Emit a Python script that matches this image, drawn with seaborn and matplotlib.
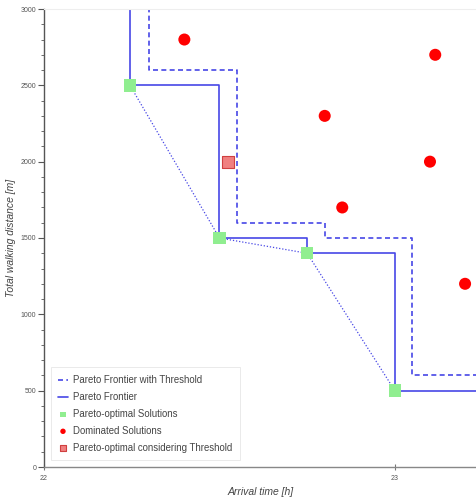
import numpy as np
import pandas as pd
import matplotlib.pyplot as plt
import seaborn as sns
from matplotlib.ticker import MultipleLocator

# Pareto-optimal solutions (arrival time [h], walking distance [m])
pareto_time = [22.245, 22.50, 22.75, 23.00]
pareto_walk = [2500, 1500, 1400, 500]

# Pareto frontier considering the threshold
thresh_time = [22.30, 22.55, 22.80, 23.05]
thresh_walk = [2600, 1600, 1500, 600]

# Dominated solutions
dom_time = [22.40, 23.115, 22.80, 23.10, 22.85, 23.20]
dom_walk = [2800, 2700, 2300, 2000, 1700, 1200]

# Pareto-optimal considering threshold
pt_time = [22.525]
pt_walk = [2000]

X_MIN, X_MAX = 22.0, 23.234
Y_MIN, Y_MAX = 0, 3000


def step_frame(xs, ys):
    # extend the frontier above the top and to the right edge
    x = [xs[0]] + list(xs) + [X_MAX + 0.1]
    y = [Y_MAX + 200] + list(ys) + [ys[-1]]
    return pd.DataFrame({'x': x, 'y': y})


sns.set_style("white")
plt.rcParams['font.family'] = ['Liberation Sans', 'DejaVu Sans']

fig = plt.figure(figsize=(4.77, 4.99), dpi=100)
ax = fig.add_axes([44 / 477, 32 / 499, 433 / 477, 458 / 499])

blue = '#4747e6'

thr = step_frame(thresh_time, thresh_walk)
sns.lineplot(data=thr, x='x', y='y', ax=ax, sort=False, estimator=None,
             drawstyle='steps-post', color=blue, linestyle=(0, (3, 2)),
             linewidth=1.2, label='Pareto Frontier with Threshold')

par = step_frame(pareto_time, pareto_walk)
sns.lineplot(data=par, x='x', y='y', ax=ax, sort=False, estimator=None,
             drawstyle='steps-post', color=blue, linewidth=1.2,
             label='Pareto Frontier')

conn = pd.DataFrame({'x': pareto_time, 'y': pareto_walk})
sns.lineplot(data=conn, x='x', y='y', ax=ax, sort=False, estimator=None,
             color=blue, linestyle=(0, (1, 1.5)), linewidth=0.9)

sns.scatterplot(x=pareto_time, y=pareto_walk, ax=ax, marker='s', s=80,
                color='#90ee90', edgecolor='none', zorder=5,
                label='Pareto-optimal Solutions')
sns.scatterplot(x=dom_time, y=dom_walk, ax=ax, marker='o', s=75,
                color='#ff0000', edgecolor='none', zorder=5,
                label='Dominated Solutions')
sns.scatterplot(x=pt_time, y=pt_walk, ax=ax, marker='s', s=75,
                color='#f08080', edgecolor='#d04040', linewidth=0.8,
                zorder=5, label='Pareto-optimal considering Threshold')

ax.set_xlim(X_MIN, X_MAX)
ax.set_ylim(Y_MIN, Y_MAX)

ax.xaxis.set_major_locator(MultipleLocator(1))
ax.yaxis.set_major_locator(MultipleLocator(500))
ax.yaxis.set_minor_locator(MultipleLocator(100))

ax.tick_params(axis='y', which='major', direction='out', length=4,
               width=0.8, color='#555555', labelsize=5,
               labelcolor='#555555', left=True, pad=1.5)
ax.tick_params(axis='y', which='minor', direction='out', length=2.5,
               width=0.6, color='#555555', left=True)
ax.tick_params(axis='x', which='major', direction='inout', length=5,
               width=0.8, color='#777777', labelsize=5,
               labelcolor='#555555', bottom=True, pad=3)

ax.spines['left'].set_color('#555555')
ax.spines['left'].set_linewidth(1.0)
ax.spines['bottom'].set_color('#888888')
ax.spines['bottom'].set_linewidth(1.0)
ax.spines['top'].set_color('#eeeeee')
ax.spines['top'].set_linewidth(0.8)
ax.spines['right'].set_visible(False)

ax.set_xlabel('Arrival time [h]', fontsize=7.5, style='italic',
              color='#444444', labelpad=4)
ax.set_ylabel('Total walking distance [m]', fontsize=7.5, style='italic',
              color='#444444', labelpad=3.5)

leg = ax.legend(loc='lower left', bbox_to_anchor=(0.004, 0.004),
                fontsize=6.9, frameon=True, fancybox=False,
                edgecolor='#e6e6e6', facecolor='white', framealpha=1,
                handlelength=1.0, handletextpad=0.55, labelspacing=0.72,
                markerscale=0.45, borderpad=0.8)
leg.get_frame().set_linewidth(0.6)
for t in leg.get_texts():
    t.set_color('#444444')

fig.savefig('out.png', dpi=100)
